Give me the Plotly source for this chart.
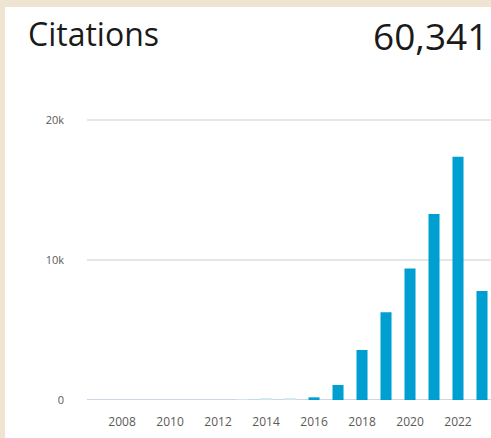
import plotly.graph_objects as go

years = list(range(2007, 2024))
citations = [0, 0, 0, 0, 0, 0, 70, 80, 75, 190, 1070, 3570, 6260, 9400, 13290, 17380, 7790]
y_tickvals = [0, 10000, 20000]
y_ticktext = ["0", "10k", "20k"]
x_tickvals = list(range(2008, 2023, 2))
title_text = "Citations"
total_text = "60,341"

W, H = 491, 438
L, R, T, B = 87, 0, 110, 38
pw, ph = W - L - R, H - T - B

def px_x(p):
    return (p - L) / pw

def px_y(p):
    return (H - B - p) / ph

beige = "#EFE4D2"
bar_blue = "#009FD1"
bar_colors = ["#cfe8f4" if 0 < v < 100 else bar_blue for v in citations]

fig = go.Figure()
fig.add_trace(go.Bar(x=years, y=citations, marker=dict(color=bar_colors, line=dict(width=0))))

fig.update_layout(
    width=W, height=H,
    margin=dict(l=L, r=R, t=T, b=B, pad=0),
    paper_bgcolor="white", plot_bgcolor="white",
    bargap=0.54, showlegend=False,
    font=dict(family="Open Sans", color="#555555"),
    xaxis=dict(range=[2006.54, 2023.375], tickvals=x_tickvals, ticktext=[str(v) for v in x_tickvals],
               showgrid=False, zeroline=False, showline=False, ticks="",
               tickfont=dict(size=12, color="#5a5a5a"), ticklabelstandoff=13, fixedrange=True),
    yaxis=dict(range=[0, 20714], tickvals=y_tickvals, ticktext=y_ticktext,
               showgrid=True, gridcolor="#e6e6e6", gridwidth=1.5,
               zeroline=False, showline=False, ticks="",
               tickfont=dict(size=11, color="#5a5a5a"), ticklabelstandoff=22, fixedrange=True),
    shapes=[
        dict(type="rect", xref="paper", yref="paper", x0=px_x(-2), x1=px_x(5), y0=px_y(H + 2), y1=px_y(-2),
             fillcolor=beige, line=dict(width=0), layer="below"),
        dict(type="rect", xref="paper", yref="paper", x0=px_x(-2), x1=px_x(W + 2), y0=px_y(7), y1=px_y(-2),
             fillcolor=beige, line=dict(width=0), layer="below"),
        dict(type="line", xref="paper", yref="y", x0=0, x1=1, y0=0, y1=0,
             line=dict(color="#cbd5e6", width=2), layer="below"),
    ],
    annotations=[
        dict(text=title_text, xref="paper", yref="paper", x=px_x(26), y=px_y(34),
             xanchor="left", yanchor="middle", showarrow=False,
             font=dict(family="Open Sans", size=32, color="#1a1a1a")),
        dict(text=total_text, xref="paper", yref="paper", x=px_x(490), y=px_y(36),
             xanchor="right", yanchor="middle", showarrow=False,
             font=dict(family="Open Sans", size=37, color="#1a1a1a")),
    ],
)

fig.write_html(
    "out.html",
    config={"displayModeBar": False},
    post_script="document.body.style.margin='0';document.body.style.overflow='hidden';",
)
